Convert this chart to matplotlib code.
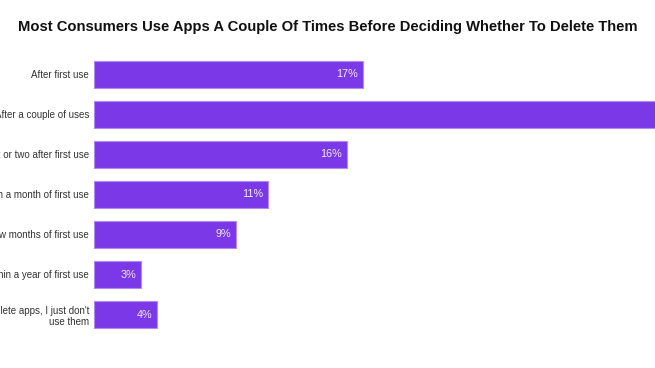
import matplotlib.pyplot as plt

categories = [
    "After first use",
    "After a couple of uses",
    "Within a week or two after first use",
    "Within a month of first use",
    "Within a few months of first use",
    "Within a year of first use",
    "I don't delete apps, I just don't\nuse them",
]
values = [17, 40, 16, 11, 9, 3, 4]
title = "Most Consumers Use Apps A Couple Of Times Before Deciding Whether To Delete Them"

plt.rcParams["font.family"] = ["Liberation Sans", "DejaVu Sans"]

W, H = 655, 368
fig = plt.figure(figsize=(W / 100, H / 100), dpi=100)

# axes in pixel terms: bars start at x=94, 1% ~ 15.8 px; axes run off the right edge
left_px, top_px, bottom_px = 94, 54.5, 334.5
xmax = 42
width_px = xmax * 15.8
ax = fig.add_axes([left_px / W, (H - bottom_px) / H, width_px / W,
                   (bottom_px - top_px) / H])

y = list(range(len(categories)))
ax.barh(y, values, height=0.675, color="#7A38E6",
        edgecolor="#B08AF0", linewidth=0.8)
ax.set_xlim(0, xmax)
ax.set_ylim(len(categories) - 0.5, -0.5)

for v, yy in zip(values, y):
    ax.annotate("%d%%" % v, xy=(v, yy), xytext=(-5, 0),
                textcoords="offset pixels",
                ha="right", va="center", color="#F3EDFF", fontsize=7.8)

ax.set_yticks(y)
ax.set_yticklabels(categories, fontsize=7.0, color="#333333")
ax.tick_params(axis="y", length=0, pad=3.5)
ax.set_xticks([])
for s in ax.spines.values():
    s.set_visible(False)

fig.text(0.5, 1 - 27 / H, title, ha="center", va="center",
         fontsize=10.6, fontweight="bold", color="#111111")

fig.savefig("out.png", dpi=100)
